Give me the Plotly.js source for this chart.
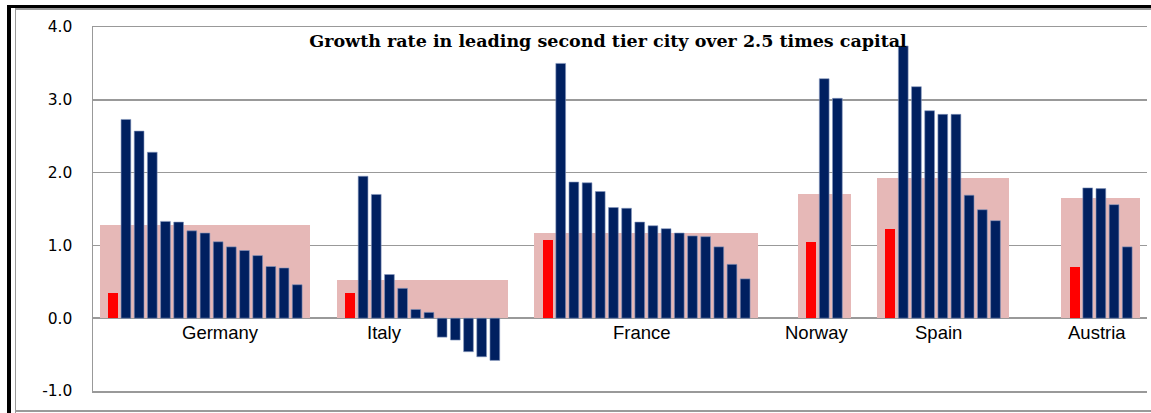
<!DOCTYPE html>
<html>
<head>
<meta charset="utf-8">
<script src="https://cdn.plot.ly/plotly-3.0.1.min.js"></script>
<style>
  html, body { margin: 0; padding: 0; background: #fff; }
  #wrap { position: relative; width: 1151px; height: 413px; overflow: hidden; }
  #chart { position: absolute; left: 0; top: 0; width: 1151px; height: 413px; }
  .fr { position: absolute; pointer-events: none; }
</style>
</head>
<body>
<div id="wrap">
  <div id="chart"></div>
  <div class="fr" style="left:7px; top:5px; width:1144px; height:3px; background:#000;"></div>
  <div class="fr" style="left:15px; top:8px; width:1136px; height:1.5px; background:#9a9a9a;"></div>
  <div class="fr" style="left:7px; top:5px; width:4px; height:408px; background:#000;"></div>
  <div class="fr" style="left:14.5px; top:8px; width:1.5px; height:405px; background:#9a9a9a;"></div>
  <div class="fr" style="left:15px; top:410px; width:1136px; height:1.5px; background:#9a9a9a;"></div>
</div>
<script>
// ---- data ----
const countries = ['Germany', 'Italy', 'France', 'Norway', 'Spain', 'Austria'];
const capitalGrowth = [0.35, 0.35, 1.07, 1.04, 1.23, 0.71];
const averageGrowth = [1.28, 0.52, 1.17, 1.70, 1.92, 1.65];
const germanyCities = [2.73, 2.57, 2.28, 1.33, 1.32, 1.20, 1.17, 1.05, 0.98, 0.93, 0.86, 0.71, 0.69, 0.46];
const italyCities   = [1.95, 1.70, 0.60, 0.41, 0.12, 0.08, -0.26, -0.30, -0.46, -0.53, -0.58];
const franceCities  = [3.50, 1.87, 1.86, 1.74, 1.52, 1.51, 1.32, 1.27, 1.23, 1.17, 1.13, 1.12, 0.98, 0.74, 0.54];
const norwayCities  = [3.29, 3.02];
const spainCities   = [3.74, 3.18, 2.85, 2.80, 2.80, 1.69, 1.49, 1.34];
const austriaCities = [1.79, 1.78, 1.56, 0.98];
const yTicks = [-1, 0, 1, 2, 3, 4];
const yTickLabels = ['-1.0', '0.0', '1.0', '2.0', '3.0', '4.0'];
const chartTitle = 'Growth rate in leading second tier city over 2.5 times capital';

// ---- layout of category slots ----
const cityGroups = [germanyCities, italyCities, franceCities, norwayCities, spainCities, austriaCities];
const emptySlotsBefore = [0, 2, 2, 3, 2, 4];
const labelSlot = [9.14, 21.66, 41.2, 54.38, 63.64, 75.7];

const redX = [], redY = [], blueX = [], blueY = [], boxX = [], boxW = [], boxY = [];
let pos = 0;
cityGroups.forEach((cities, g) => {
  const start = pos + emptySlotsBefore[g];
  const red = start + 1;
  redX.push(red); redY.push(capitalGrowth[g]);
  cities.forEach((v, i) => { blueX.push(red + 1 + i); blueY.push(v); });
  const end = red + cities.length + 1;
  boxX.push((start + end) / 2); boxW.push(end - start); boxY.push(averageGrowth[g]);
  pos = end;
});

const traces = [
  { type: 'bar', x: boxX, y: boxY, width: boxW, marker: { color: '#E6B8B7' },
    hoverinfo: 'y', showlegend: false },
  { type: 'bar', x: redX, y: redY, width: 0.76, marker: { color: '#FF0000' },
    hoverinfo: 'y', showlegend: false },
  { type: 'bar', x: blueX, y: blueY, width: 0.74,
    marker: { color: '#002060', line: { color: '#8497bd', width: 0.6 } },
    hoverinfo: 'y', showlegend: false }
];

const annotations = countries.map((c, i) => ({
  x: labelSlot[i], y: -0.19, xref: 'x', yref: 'y', text: c, showarrow: false,
  xanchor: 'center', yanchor: 'middle',
  font: { family: 'Liberation Sans, Arial, sans-serif', size: 18.5, color: '#000' }
}));

const layout = {
  width: 1151, height: 413,
  margin: { l: 93, r: 4, t: 27, b: 22, pad: 0 },
  paper_bgcolor: 'rgba(0,0,0,0)', plot_bgcolor: '#fff',
  barmode: 'overlay', bargap: 0,
  title: { text: '<b>' + chartTitle + '</b>', xref: 'container', yref: 'container',
    x: 608 / 1151, y: 1 - 41.3 / 413, xanchor: 'center', yanchor: 'middle',
    font: { family: 'DejaVu Serif, serif', size: 17.5, color: '#000' } },
  xaxis: { range: [-0.5, 79.5], showgrid: false, zeroline: false, showticklabels: false,
    ticks: '', showline: true, mirror: true, linecolor: '#999999', linewidth: 1.5, fixedrange: true },
  yaxis: { range: [-1, 4], tickvals: yTicks, ticktext: yTickLabels, showgrid: true,
    gridcolor: '#999999', gridwidth: 1.5, zeroline: true, zerolinecolor: '#999999', zerolinewidth: 1.5,
    showline: true, linecolor: '#999999', linewidth: 1.5, ticks: '', ticklabelstandoff: 16,
    tickfont: { family: 'DejaVu Sans, Verdana, sans-serif', size: 15.5, color: '#000' }, fixedrange: true },
  annotations: annotations,
  showlegend: false
};

Plotly.newPlot('chart', traces, layout, { displayModeBar: false, staticPlot: true });
</script>
</body>
</html>
